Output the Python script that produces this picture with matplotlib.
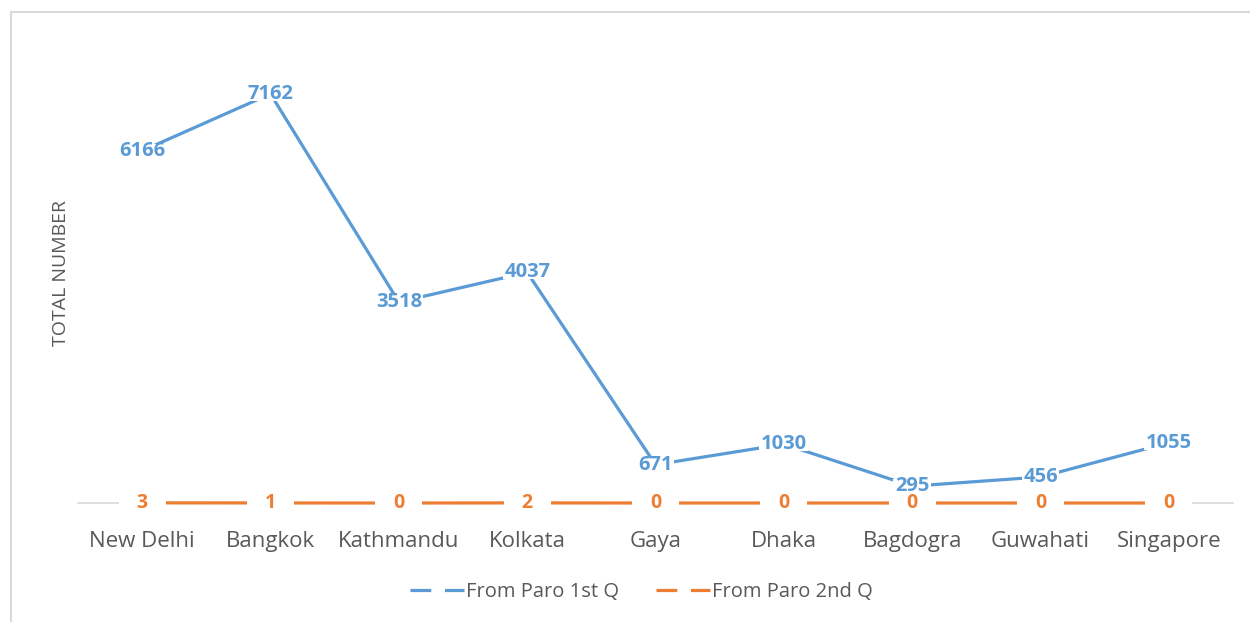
import matplotlib.pyplot as plt
from matplotlib.lines import Line2D
from matplotlib.patches import Rectangle

plt.rcParams['font.family'] = ['Open Sans', 'DejaVu Sans']

cities = ["New Delhi", "Bangkok", "Kathmandu", "Kolkata", "Gaya",
          "Dhaka", "Bagdogra", "Guwahati", "Singapore"]
first_q = [6166, 7162, 3518, 4037, 671, 1030, 295, 456, 1055]
second_q = [3, 1, 0, 2, 0, 0, 0, 0, 0]

blue = "#5B9BD5"
orange = "#ED7D31"
grey_text = "#595959"

fig = plt.figure(figsize=(12.5, 6.22), dpi=100)
ax = fig.add_axes([0.0624, 0.1913, 0.924, 0.7347])

x = list(range(len(cities)))
ax.plot(x, first_q, color=blue, lw=2.3, zorder=2, solid_capstyle='butt')
ax.plot(x, second_q, color=orange, lw=2.3, zorder=2, solid_capstyle='butt',
        clip_on=False)

# data labels sit on the points
labels = []
for i, v in enumerate(second_q):
    t = ax.text(i, v, str(v), ha='center', va='center', color=orange,
                fontsize=14, fontweight='bold', zorder=5)
    labels.append((t, 36, 2))
for i, v in enumerate(first_q):
    t = ax.text(i, v, str(v), ha='center', va='center', color=blue,
                fontsize=14.5, fontweight='bold', zorder=5)
    labels.append((t, 3, 6))

ax.set_xlim(-0.5, len(cities) - 0.5)
ax.set_ylim(0, 8000)
ax.set_xticks(x)
ax.set_xticklabels(cities, fontsize=16, color=grey_text)
ax.tick_params(axis='x', length=0, pad=20)
ax.set_yticks([])
for s in ['top', 'right', 'left']:
    ax.spines[s].set_visible(False)
ax.spines['bottom'].set_color('#D9D9D9')
ax.spines['bottom'].set_linewidth(1.2)
ax.spines['bottom'].set_zorder(1)

# white boxes behind the labels hide the line underneath (below all label text)
renderer = fig.canvas.get_renderer()
inv = fig.transFigure.inverted()
for t, extra_w, shrink_h in labels:
    bb = t.get_window_extent(renderer)
    x0, y0 = inv.transform((bb.x0 - extra_w / 2, bb.y0 + shrink_h / 2))
    x1, y1 = inv.transform((bb.x1 + extra_w / 2, bb.y1 - shrink_h / 2))
    ax.add_patch(Rectangle((x0, y0), x1 - x0, y1 - y0, transform=fig.transFigure,
                           fc='white', ec='none', zorder=3, clip_on=False))

fig.text(0.049, 0.561, "TOTAL NUMBER", rotation=90, ha='center', va='center',
         fontsize=14, color=grey_text)

handles = [Line2D([], [], color=blue, lw=2.3, dashes=(6.5, 4.3)),
           Line2D([], [], color=orange, lw=2.3, dashes=(6.5, 4.3))]
fig.legend(handles, ["From Paro 1st Q", "From Paro 2nd Q"], loc='center',
           bbox_to_anchor=(0.513, 0.048), ncol=2, frameon=False,
           fontsize=14.5, labelcolor=grey_text, handlelength=2.7,
           handletextpad=0.1, columnspacing=1.8)

# chart border (only left and top edges fall inside the image)
fig.add_artist(Line2D([0.0088, 0.0088], [0.9807, -0.1], color='#D9D9D9', lw=1.5))
fig.add_artist(Line2D([0.0088, 1.1], [0.9807, 0.9807], color='#D9D9D9', lw=1.5))

fig.savefig("out.png", dpi=100)
